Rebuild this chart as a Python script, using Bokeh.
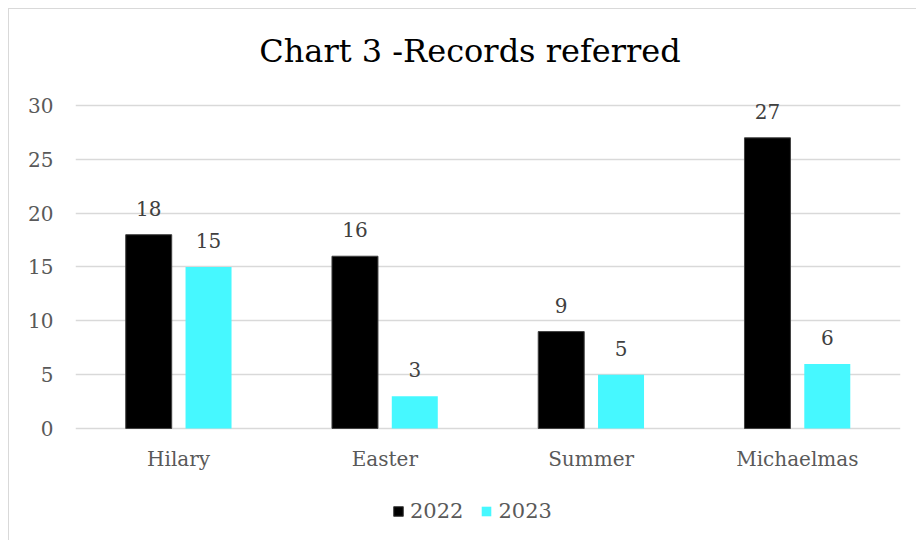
from bokeh.plotting import figure
from bokeh.models import ColumnDataSource, FactorRange, LabelSet, Legend, LegendItem, Range1d, Label
from bokeh.core.properties import value
from bokeh.transform import dodge
from bokeh.embed import file_html
from bokeh.resources import INLINE

terms = ["Hilary", "Easter", "Summer", "Michaelmas"]
v2022 = [18, 16, 9, 27]
v2023 = [15, 3, 5, 6]
y_ticks = [0, 5, 10, 15, 20, 25, 30]
series_names = ["2022", "2023"]
title_text = "Chart 3 -Records referred"

FONT = "DejaVu Serif"
C22 = "#000000"
C23 = "#46F8FF"

src = ColumnDataSource(dict(term=terms, v22=v2022, v23=v2023,
                            l22=[str(v) for v in v2022], l23=[str(v) for v in v2023]))

# frame spans the whole drawing height; y=0 sits where the category axis is
p = figure(x_range=FactorRange(*terms), y_range=Range1d(-10.5, 38.92),
           width=908, height=532, output_backend="svg", toolbar_location=None,
           min_border_left=66, min_border_right=17, min_border_top=0, min_border_bottom=0)
p.styles = {"border-left": "1px solid #d9d9d9", "border-top": "1px solid #d9d9d9",
            "margin-left": "8px", "margin-top": "8px"}

r22 = p.vbar(x=dodge("term", -0.145, range=p.x_range), top="v22", width=0.223, source=src,
             fill_color=C22, line_color="#404040", line_width=1)
r23 = p.vbar(x=dodge("term", 0.145, range=p.x_range), top="v23", width=0.223, source=src,
             fill_color=C23, line_color=None)

for col, lab, off in (("v22", "l22", -0.145), ("v23", "l23", 0.145)):
    p.add_layout(LabelSet(x=dodge("term", off, range=p.x_range), y=col, text=lab, source=src,
                          text_align="center", text_baseline="bottom", y_offset=19,
                          text_font=value(FONT), text_font_size=value("20px"),
                          text_color="#404040"))

# category labels under the zero line
p.add_layout(LabelSet(x="term", y=0, text="term", source=src, text_align="center",
                      text_baseline="middle", y_offset=-31, text_font=value(FONT),
                      text_font_size=value("20px"), text_color="#595959"))

# title
p.add_layout(Label(x=2, y=35.1, text=title_text, text_align="center", text_baseline="middle",
                   x_offset=-18, text_font=FONT, text_font_size="32px", text_color="#000000"))

p.xaxis.visible = False

p.yaxis.ticker = y_ticks
p.yaxis.axis_line_color = None
p.yaxis.major_tick_line_color = None
p.yaxis.minor_tick_line_color = None
p.yaxis.major_label_text_font = FONT
p.yaxis.major_label_text_font_size = "20px"
p.yaxis.major_label_text_color = "#595959"
p.yaxis.major_label_standoff = 16

p.xgrid.grid_line_color = None
p.ygrid.grid_line_color = "#d9d9d9"
p.ygrid.grid_line_width = 1.5
p.outline_line_color = None

legend = Legend(items=[LegendItem(label=series_names[0], renderers=[r22]),
                       LegendItem(label=series_names[1], renderers=[r23])],
                orientation="horizontal", location=(317, 18),
                glyph_width=12, glyph_height=12, label_text_font=FONT,
                label_text_font_size="21px", label_text_color="#595959",
                border_line_color=None, background_fill_alpha=0, padding=0, margin=0,
                spacing=17, label_standoff=6)
p.add_layout(legend, "center")

open("out.html", "w").write(file_html(p, INLINE))
